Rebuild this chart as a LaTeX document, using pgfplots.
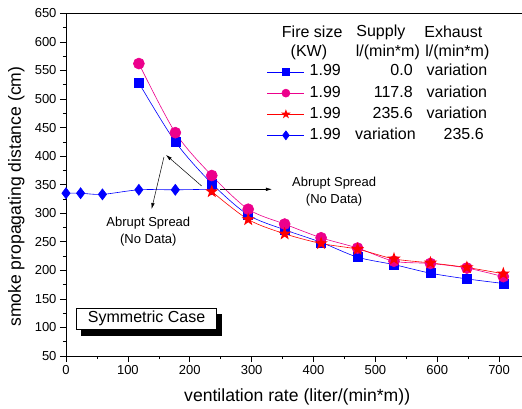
\documentclass[border=0pt]{standalone}
\usepackage{fontspec}
\setmainfont{Liberation Sans}
\usepackage{pgfplots}
\pgfplotsset{compat=1.18}
\usetikzlibrary{arrows.meta,shadows}

% filled five-pointed star
\pgfdeclareplotmark{fstar}{%
  \pgfpathmoveto{\pgfpointpolar{90}{\pgfplotmarksize}}%
  \pgfpathlineto{\pgfpointpolar{126}{0.4\pgfplotmarksize}}%
  \pgfpathlineto{\pgfpointpolar{162}{\pgfplotmarksize}}%
  \pgfpathlineto{\pgfpointpolar{198}{0.4\pgfplotmarksize}}%
  \pgfpathlineto{\pgfpointpolar{234}{\pgfplotmarksize}}%
  \pgfpathlineto{\pgfpointpolar{270}{0.4\pgfplotmarksize}}%
  \pgfpathlineto{\pgfpointpolar{306}{\pgfplotmarksize}}%
  \pgfpathlineto{\pgfpointpolar{342}{0.4\pgfplotmarksize}}%
  \pgfpathlineto{\pgfpointpolar{18}{\pgfplotmarksize}}%
  \pgfpathlineto{\pgfpointpolar{54}{0.4\pgfplotmarksize}}%
  \pgfpathclose
  \pgfusepathqfill}

\begin{document}
\begin{tikzpicture}
\useasboundingbox (-66pt,-52pt) rectangle (456pt,356pt);
\begin{axis}[
  at={(0,0)}, anchor=south west,
  scale only axis, width=456pt, height=342.7pt,
  xmin=0, xmax=737, ymin=50, ymax=650,
  axis y line*=left,
  xtick pos=bottom,
  xtick={0,100,...,700}, minor x tick num=1,
  ytick={50,100,...,650}, minor y tick num=1,
  tick align=outside, major tick length=6pt, minor tick length=3pt,
  tick style={black, line width=0.6pt},
  axis line style={line width=0.8pt},
  ticklabel style={font=\fontsize{13}{15}\selectfont},
  /pgf/number format/assume math mode=true,
  xlabel={ventilation rate (liter/(min*m))},
  ylabel={smoke propagating distance (cm)},
  label style={font=\fontsize{17.6}{20}\selectfont},
  xlabel style={at={(axis description cs:0.507,-0.134)}, anchor=base},
  ylabel style={at={(axis description cs:-0.0987,0.465)}, anchor=base},
  legend style={draw=none, fill=none, at={(axis cs:324.7,566)}, anchor=north west,
    font=\fontsize{16}{19}\selectfont, inner sep=0pt, row sep=0pt,
    nodes={inner sep=1pt, text height=13.5pt, text depth=5.6pt},
    /tikz/every odd column/.append style={column sep=4pt}},
  legend cell align=left,
  legend image code/.code={\draw[mark repeat=2,mark phase=2] plot coordinates {(0pt,0pt)(18.5pt,0pt)(37pt,0pt)};},
]
% supply variation, exhaust 235.6
\addplot[forget plot, blue, line width=0.6pt, smooth, mark=diamond*, mark size=5.5pt]
  coordinates {(0,335)(23.6,335)(58.9,333)(117.8,341)(176.7,341)(235.6,342)};
% supply 0.0
\addplot[forget plot, blue, line width=0.6pt, smooth, mark=square*, mark size=4.5pt]
  coordinates {(117.8,528)(176.7,425)(235.6,352)(294.5,297)(353.4,271)(412.3,249)
               (471.2,223)(530.1,210)(589,195)(647.9,185)(706.8,177)};
% supply 117.8
\addplot[forget plot, magenta, line width=0.6pt, smooth, mark=*, mark size=5.5pt]
  coordinates {(117.8,562)(176.7,441)(235.6,366)(294.5,307)(353.4,281)(412.3,257)
               (471.2,239)(530.1,216)(589,212)(647.9,204)(706.8,189)};
% supply 235.6
\addplot[forget plot, red, line width=0.6pt, smooth, mark=fstar, mark size=7pt]
  coordinates {(235.6,338)(294.5,289)(353.4,264)(412.3,247)(471.2,237)(530.1,220)
               (589,213)(647.9,205)(706.8,194)};

\addlegendimage{blue, line width=0.6pt, mark=square*, mark size=3.5pt}
\addlegendentry{\makebox[31pt][l]{1.99}\makebox[72pt][r]{0.0}\hspace{14pt}variation}
\addlegendimage{magenta, line width=0.6pt, mark=*, mark size=4pt}
\addlegendentry{\makebox[31pt][l]{1.99}\makebox[72pt][r]{117.8}\hspace{14pt}variation}
\addlegendimage{red, line width=0.6pt, mark=fstar, mark size=5pt}
\addlegendentry{\makebox[31pt][l]{1.99}\makebox[72pt][r]{235.6}\hspace{14pt}variation}
\addlegendimage{blue, line width=0.6pt, mark=diamond*, mark size=4.5pt}
\addlegendentry{\makebox[31pt][l]{1.99}\makebox[75pt][r]{variation}\makebox[68pt][r]{235.6}}

% legend header
\node[font=\fontsize{16}{19}\selectfont] at (axis cs:397.9,617.3) {Fire size};
\node[font=\fontsize{16}{19}\selectfont] at (axis cs:392.6,582.2) {(KW)};
\node[font=\fontsize{16}{19}\selectfont] at (axis cs:508.9,617.3) {Supply};
\node[font=\fontsize{16}{19}\selectfont] at (axis cs:520.2,582.2) {l/(min*m)};
\node[font=\fontsize{16}{19}\selectfont] at (axis cs:626,617.3) {Exhaust};
\node[font=\fontsize{16}{19}\selectfont] at (axis cs:632.5,582.2) {l/(min*m)};

% annotations
\draw[-{Latex[length=6pt,width=3.5pt]}, line width=0.5pt] (axis cs:219.2,347.7) -- (axis cs:161.6,402);
\draw[-{Latex[length=6pt,width=3.5pt]}, line width=0.5pt] (axis cs:158.3,398.4) -- (axis cs:138.4,307.4);
\draw[-{Latex[length=6pt,width=3.5pt]}, line width=0.5pt] (axis cs:248.8,341.9) -- (axis cs:332.8,341.9);
\node[font=\fontsize{13}{16.7}\selectfont, align=center] at (axis cs:133,267.7) {Abrupt Spread\\(No Data)};
\node[font=\fontsize{13}{16.7}\selectfont, align=center] at (axis cs:433.3,337.7) {Abrupt Spread\\(No Data)};

\node[draw, fill=white, line width=0.8pt, minimum width=140pt, minimum height=21pt, inner sep=0pt,
  font=\fontsize{16}{19}\selectfont,
  copy shadow={shadow xshift=5pt, shadow yshift=-6pt, fill=black, draw=black}]
  at (axis cs:130.3,115.2) {Symmetric Case};
\end{axis}
\end{tikzpicture}
\end{document}
